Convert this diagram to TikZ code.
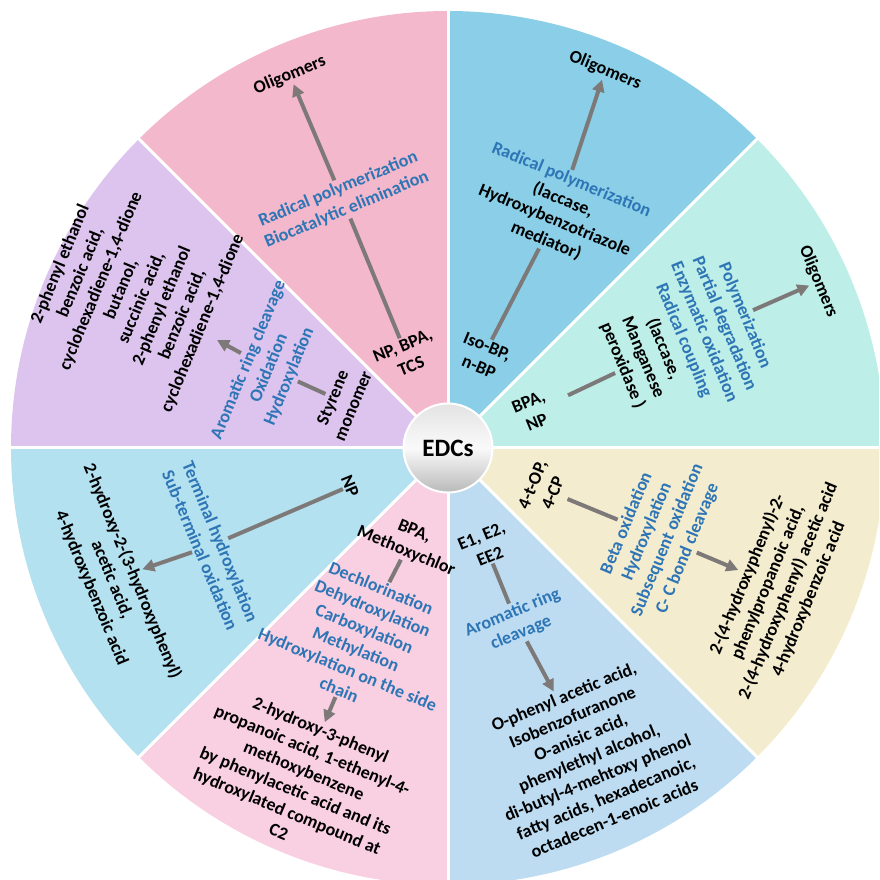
\documentclass[tikz,border=0pt]{standalone}
\usepackage{fontspec}
\setmainfont{Carlito}
\usepackage{tikz}
\usetikzlibrary{arrows.meta,positioning}
\usepackage{xcolor}
\definecolor{secA}{HTML}{F3B8CB}
\definecolor{secB}{HTML}{8ACFE7}
\definecolor{secC}{HTML}{BDEEE7}
\definecolor{secD}{HTML}{F4ECCE}
\definecolor{secE}{HTML}{BDDCF1}
\definecolor{secF}{HTML}{F9D0E1}
\definecolor{secG}{HTML}{B4E1EF}
\definecolor{secH}{HTML}{DCC4EE}
\definecolor{txtblue}{HTML}{2E75B6}
\definecolor{arrowgray}{HTML}{7D7979}

\begin{document}
\begin{tikzpicture}[x=1pt,y=1pt,
  every node/.style={inner sep=2pt,outer sep=0pt,align=center,font=\fontsize{18}{22}\selectfont\bfseries},
  src/.style={text=black},
  proc/.style={text=txtblue},
  prod/.style={text=black},
  link/.style={draw=arrowgray,line width=4pt},
  flow/.style={link,-{Triangle[length=12pt,width=12pt]}}]
\useasboundingbox (-448,-432) rectangle (431,448);
\clip (-448,-432) rectangle (431,448);
% WEDGES: eight 45-degree sectors with white spokes between them
\foreach \a/\c in {0/secC,45/secB,90/secA,135/secH,180/secG,225/secF,270/secE,315/secD}
  \fill[\c] (0,0) -- (\a:437) arc[start angle=\a, end angle=\a+45, radius=437pt] -- cycle;
\foreach \a in {0,45,...,315}
  \draw[white,line width=3pt] (0,0) -- (\a:440);
% SECTOR A: NP, BPA, TCS -> oligomers
\node[src, rotate=22.5] (a1) at (114:101) {NP, BPA,\\TCS};
\node[proc, rotate=22.5] (a2) at (113:270) {Radical polymerization\\Biocatalytic elimination};
\node[prod, rotate=22.5] (a3) at (113:405) {Oligomers};
\draw[link] (a1) -- (a2);
\draw[flow] (a2) -- (a3);
% SECTOR B: Iso-BP, n-BP -> oligomers
\node[src, rotate=-22.5] (b1) at (69:98) {Iso-BP,\\n-BP};
\node[prod, rotate=-22.5] (b2) at (65:262) {\textcolor{txtblue}{Radical polymerization}\\(laccase,\\Hydroxybenzotriazole\\mediator)};
\node[prod, rotate=-22.5] (b3) at (67.4:409) {Oligomers};
\draw[link] (b1) -- (b2);
\draw[flow] (b2) -- (b3);
% SECTOR C: BPA, NP -> oligomers
\node[src, rotate=22.5] (c1) at (23:92) {BPA,\\NP};
\node[prod, rotate=-67.5] (c2) at (24.5:259) {\textcolor{txtblue}{Polymerization}\\\textcolor{txtblue}{Partial degradation}\\\textcolor{txtblue}{Enzymatic oxidation}\\\textcolor{txtblue}{Radical coupling}\\(laccase,\\Manganese\\peroxidase )};
\node[prod, rotate=-67.5] (c3) at (24.2:406) {Oligomers};
\draw[link, shorten <=20pt] (c1) -- (c2);
\draw[flow] (c2) -- (c3);
% SECTOR D: 4-t-OP, 4-CP
\node[src, rotate=67.5] (d1) at (-23.3:103) {4-t-OP,\\4-CP};
\node[proc, rotate=67.5] (d2) at (-22.8:227) {Beta oxidation\\Hydroxylation\\Subsequent oxidation\\C- C bond cleavage};
\node[prod, rotate=67.5] (d3) at (-22.8:358) {2-(4-hydroxyphenyl)-2-\\phenylpropanoic acid,\\2-(4-hydroxyphenyl) acetic acid\\4-hydroxybenzoic acid};
\draw[link, shorten <=8pt] (d1) -- (d2);
\draw[flow] (d2) -- (d3);
% SECTOR E: E1, E2, EE2
\node[src, rotate=22.5] (e1) at (-69:105) {E1, E2,\\EE2};
\node[proc, rotate=22.5] (e2) at (-68.5:188) {Aromatic ring\\cleavage};
\node[prod, rotate=22.5] (e3) at (-65.5:340) {O-phenyl acetic acid,\\Isobenzofuranone\\O-anisic acid,\\phenylethyl alcohol,\\di-butyl-4-mehtoxy phenol\\fatty acids, hexadecanoic,\\octadecen-1-enoic acids};
\draw[link] (e1) -- (e2);
\draw[flow] (e2) -- (e3);
% SECTOR F: BPA, Methoxychlor
\node[src, rotate=-22.5] (f1) at (-112:101) {BPA,\\Methoxychlor};
\node[proc, rotate=-22.5] (f2) at (-114.7:210) {Dechlorination\\Dehydroxylation\\Carboxylation\\Methylation\\Hydroxylation on the side\\chain};
\node[prod, rotate=-22.5] (f3) at (-114:364) {2-hydroxy-3-phenyl\\propanoic acid, 1-ethenyl-4-\\methoxybenzene\\by phenylacetic acid and its\\hydroxylated compound at\\C2};
\draw[link] (f1) -- (f2);
\draw[flow] (f2) -- (f3);
% SECTOR G: NP
\node[src, rotate=-67.5] (g1) at (201.2:105) {NP};
\node[proc, rotate=-67.5] (g2) at (202.4:257) {Terminal hydroxylation\\Sub-terminal oxidation};
\node[prod, rotate=-67.5] (g3) at (201.4:361) {2-hydroxy-2-(3-hydroxyphenyl)\\acetic acid,\\4-hydroxybenzoic acid};
\draw[link] (g1) -- (g2);
\draw[flow] (g2) -- (g3);
% SECTOR H: styrene monomer
\node[src, rotate=67.5] (h1) at (156.3:115) {Styrene\\monomer};
\node[proc, rotate=67.5] (h2) at (156:196) {Aromatic ring cleavage\\Oxidation\\Hydroxylation};
\node[prod, rotate=67.5] (h3) at (154:352) {2-phenyl ethanol\\benzoic acid,\\cyclohexadiene-1,4-dione\\butanol,\\succinic acid,\\2-phenyl ethanol\\benzoic acid,\\cyclohexadiene-1,4-dione};
\draw[link] (h1) -- (h2);
\draw[flow, shorten >=10pt] (h2) -- (h3);
% HUB
\node[circle, minimum size=89pt, draw=white, line width=2pt, top color=gray!22, bottom color=gray!55, middle color=gray!4, font=\fontsize{25}{30}\selectfont\bfseries] (edcs) at (0,0) {EDCs};
\end{tikzpicture}
\end{document}
